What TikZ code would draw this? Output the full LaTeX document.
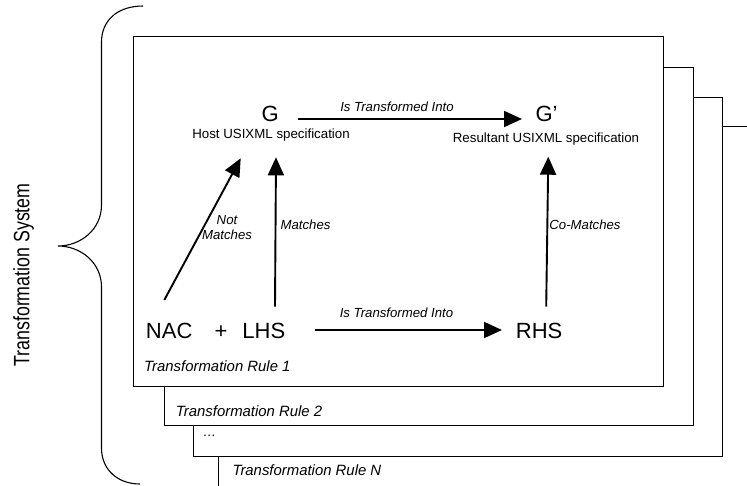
\documentclass[tikz,border=0pt]{standalone}
\usepackage{fontspec}
\setmainfont{Liberation Sans}
\usetikzlibrary{arrows.meta}
\begin{document}
\begin{tikzpicture}[x=1pt,y=-1pt,
  big/.style={font=\fontsize{22}{26}\selectfont, inner sep=0pt, anchor=base},
  small/.style={font=\fontsize{13.3}{16}\selectfont, inner sep=0pt, anchor=base},
  lbl/.style={font=\fontsize{13.2}{15}\selectfont\itshape, inner sep=0pt, anchor=base},
  rulelbl/.style={font=\fontsize{14.9}{18}\selectfont\itshape, inner sep=0pt, anchor=base west},
  arr/.style={line width=1.9pt, -{Triangle[length=18pt,width=16pt]}},
  card/.style={draw, fill=white, line width=0.9pt, anchor=north west, inner sep=0pt}]
\useasboundingbox (0,0) rectangle (747,485);
\clip (0,0) rectangle (747,485);
% stacked rule cards
\node[card, minimum width=600pt, minimum height=400pt] (r4) at (217.7,126) {};
\node[card, minimum width=529.3pt, minimum height=359pt] (r3) at (192.7,96.7) {};
\node[card, minimum width=529.3pt, minimum height=358.3pt] (r2) at (164,66.7) {};
\node[card, minimum width=530pt, minimum height=349.7pt] (r1) at (133.3,36) {};
% brace
\draw[line width=1.1pt] (143,6) .. controls (118,6) and (101.5,20) .. (101.5,42)
  -- (101.5,205) .. controls (101.5,230) and (80,246) .. (58,246)
  .. controls (80,246) and (101.5,262) .. (101.5,287)
  -- (101.5,448) .. controls (101.5,470) and (118,484) .. (140,484);
\node[rotate=90, anchor=base, inner sep=0pt, font=\fontsize{17.8}{20}\selectfont] (ts) at (29.3,275)
  {\scalebox{1}[1.25]{Transformation System}};
% main nodes
\node[big] (G) at (270.3,121) {G};
\node[big] (Gp) at (546.5,121) {G’};
\node[small] (host) at (271,138.3) {Host USIXML specification};
\node[small] (res) at (546,142.5) {Resultant USIXML specification};
\node[big] (nac) at (169.2,338.3) {NAC};
\node[big] (plus) at (221,338.3) {+};
\node[big] (lhs) at (263.8,338.3) {LHS};
\node[big] (rhs) at (539.2,338.3) {RHS};
% connectors
\draw[arr] ([shift={(28,-2)}]G.base) -- ([shift={(-24.5,-2)}]Gp.base);
\draw[arr] ([shift={(51.2,-8.3)}]lhs.base) -- ([shift={(-37.2,-8.3)}]rhs.base);
\draw[arr] ([shift={(11.2,-31.6)}]lhs.base) -- ([shift={(5,19)}]host.base);
\draw[arr] ([shift={(-4.9,-38.3)}]nac.base) -- ([shift={(-30.3,20)}]host.base);
\draw[arr] ([shift={(7,-31.6)}]rhs.base) -- ([shift={(2.3,14.2)}]res.base);
% connector labels
\node[lbl] (l1) at (397,111.5) {Is Transformed Into};
\node[lbl] (l2) at (396.5,317.5) {Is Transformed Into};
\node[lbl] (l3) at (305.5,229.5) {Matches};
\node[lbl, anchor=center, align=center] (l4) at (227,227.7) {Not\\Matches};
\node[lbl] (l5) at (585,229.5) {Co-Matches};
% rule labels
\node[rulelbl] (t1) at (144,371.5) {Transformation Rule 1};
\node[rulelbl] (t2) at (175.7,416.5) {Transformation Rule 2};
\node[rulelbl, font=\fontsize{13.2}{15}\selectfont\itshape] (t3) at (203,436) {…};
\node[rulelbl] (tn) at (232.3,475) {Transformation Rule N};
\end{tikzpicture}
\end{document}
